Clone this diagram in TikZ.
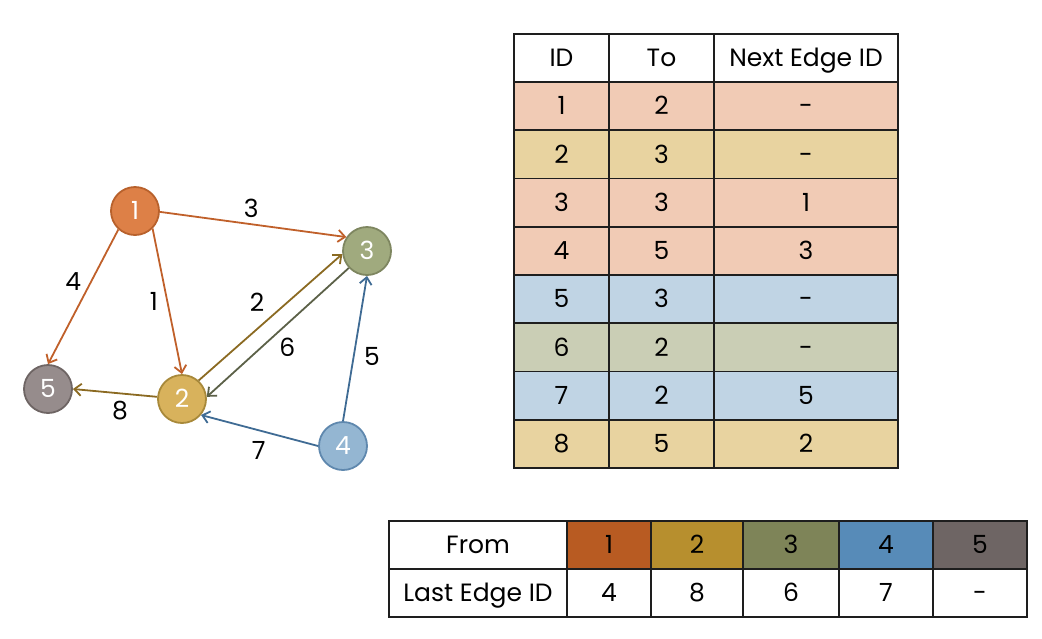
\documentclass[tikz,border=0pt]{standalone}
\usepackage{fontspec}
\setmainfont{Poppins}
\usetikzlibrary{arrows.meta}
\definecolor{v1}{HTML}{DD8047}\definecolor{v1d}{HTML}{B8612C}
\definecolor{v2}{HTML}{D8B25C}\definecolor{v2d}{HTML}{A8893A}
\definecolor{v3}{HTML}{A0AA7E}\definecolor{v3d}{HTML}{7E8660}
\definecolor{v4}{HTML}{94B6D2}\definecolor{v4d}{HTML}{5F88AE}
\definecolor{v5}{HTML}{968C8C}\definecolor{v5d}{HTML}{6E6564}
\definecolor{e1}{HTML}{C0602A}\definecolor{e2}{HTML}{8B6A22}
\definecolor{e3}{HTML}{5C6148}\definecolor{e4}{HTML}{3F6B94}
\definecolor{rowA}{HTML}{F1CBB5}\definecolor{rowB}{HTML}{E8D3A0}
\definecolor{rowC}{HTML}{C0D4E4}\definecolor{rowD}{HTML}{CACEB5}
\definecolor{fA}{HTML}{B85B22}\definecolor{fB}{HTML}{B78F2E}
\definecolor{fC}{HTML}{7E8458}\definecolor{fD}{HTML}{578BB8}
\definecolor{fE}{HTML}{6E6564}
\definecolor{linec}{HTML}{1E1E1E}
\begin{document}
\begin{tikzpicture}[x=1pt,y=-1pt]
	\tikzstyle{vertex}=[circle,minimum size=48pt,inner sep=0pt,line width=1.8pt,text=white,text height=17.5pt,text depth=0pt,font=\fontsize{25}{28}\selectfont]
	\tikzstyle{arc}=[line width=1.8pt,-{Straight Barb[length=7pt,width=12pt]}]
	\tikzstyle{lbl}=[inner sep=0pt,text=black,text height=17.5pt,text depth=0pt,font=\fontsize{25}{28}\selectfont]
	\tikzstyle{cell}=[draw=linec,line width=1.8pt]
	\tikzstyle{txt}=[inner sep=0pt,text height=17.5pt,text depth=0pt,font=\fontsize{25}{28}\selectfont]
	\useasboundingbox (0,0) rectangle (1042,638);
	% graph
	\node[vertex,fill=v1,draw=v1d] (g_1) at (135,211) {1};
	\node[vertex,fill=v2,draw=v2d] (g_2) at (182,399) {2};
	\node[vertex,fill=v3,draw=v3d] (g_3) at (367,251) {3};
	\node[vertex,fill=v4,draw=v4d] (g_4) at (343,446) {4};
	\node[vertex,fill=v5,draw=v5d] (g_5) at (48,389) {5};
	\draw[arc,e1] (g_1.-45) -- node[lbl,shift={(-13.5,0)}] {1} (g_2.90);
	\draw[arc,e2] (g_2.48) -- node[lbl,shift={(-13.5,-14.5)}] {2} (g_3.187);
	\draw[arc,e1] (g_1.-2) -- node[lbl,shift={(-2,-16)}] {3} (g_3.146);
	\draw[arc,e1] (g_1.-132) -- node[lbl,shift={(-10,-15)}] {4} (g_5.90);
	\draw[arc,e4] (g_4.90) -- node[lbl,shift={(17,8.5)}] {5} (g_3.-90);
	\draw[arc,e3] (g_3.223) -- node[lbl,shift={(9.5,15)}] {6} (g_2.5);
	\draw[arc,e4] (g_4.180) -- node[lbl,shift={(-1,20)}] {7} (g_2.-40);
	\draw[arc,e2] (g_2.175) -- node[lbl,shift={(5,18)}] {8} (g_5.0);
	% edge table
	\draw[cell,fill=white] (514,34) rectangle (609,82) (609,34) rectangle (714,82) (714,34) rectangle (898,82);
	\node[txt] (h_id) at (561.5,58) {ID};
	\node[txt] (h_to) at (661.5,58) {To};
	\node[txt] (h_nx) at (806,58) {Next Edge ID};
	\foreach \id/\to/\nxt/\col [count=\r] in {1/2/-/rowA,2/3/-/rowB,3/3/1/rowA,4/5/3/rowA,5/3/-/rowC,6/2/-/rowD,7/2/5/rowC,8/5/2/rowB}{
		\pgfmathsetmacro\ya{82+48.25*(\r-1)}
		\pgfmathsetmacro\yb{82+48.25*\r}
		\pgfmathsetmacro\ym{(\ya+\yb)/2}
		\draw[cell,fill=\col] (514,\ya) rectangle (609,\yb) (609,\ya) rectangle (714,\yb) (714,\ya) rectangle (898,\yb);
		\node[txt] (id_\r) at (561.5,\ym) {\id};
		\node[txt] (to_\r) at (661.5,\ym) {\to};
		\node[txt] (nx_\r) at (806,\ym) {\nxt};
	}
	% head table
	\draw[cell,fill=white] (389,521) rectangle (567,569) (389,569) rectangle (567,617);
	\node[txt] (h_from) at (478,545) {From};
	\node[txt] (h_last) at (478,593) {Last Edge ID};
	\foreach \v/\last/\col/\xa/\xb in {1/4/fA/567/651,2/8/fB/651/743,3/6/fC/743/839,4/7/fD/839/933,5/-/fE/933/1027}{
		\draw[cell,fill=\col] (\xa,521) rectangle (\xb,569);
		\draw[cell,fill=white] (\xa,569) rectangle (\xb,617);
		\node[txt] (fr_\v) at ({(\xa+\xb)/2},545) {\v};
		\node[txt] (la_\v) at ({(\xa+\xb)/2},593) {\last};
	}
\end{tikzpicture}
\end{document}
